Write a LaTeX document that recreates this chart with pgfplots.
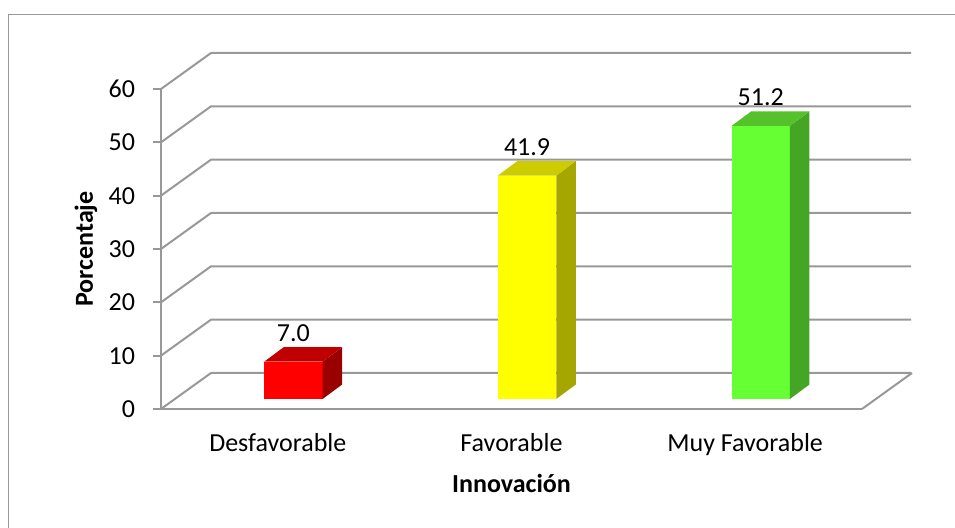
\documentclass[border=0pt]{standalone}
\usepackage{pgfplots}
\pgfplotsset{compat=1.18}
\usepackage{fontspec}
\setmainfont{Carlito}
\definecolor{gridgray}{RGB}{152,152,152}
\definecolor{redfront}{RGB}{255,0,0}
\definecolor{redtop}{RGB}{192,0,0}
\definecolor{redside}{RGB}{155,0,0}
\definecolor{yelfront}{RGB}{255,255,0}
\definecolor{yeltop}{RGB}{204,204,0}
\definecolor{yelside}{RGB}{166,166,0}
\definecolor{grnfront}{RGB}{102,255,51}
\definecolor{grntop}{RGB}{85,194,43}
\definecolor{grnside}{RGB}{69,165,37}
% 3D side and top faces, drawn as a mark at the top centre of the front face
\newcommand\declarecube[3]{%
\pgfdeclareplotmark{#1}{%
  \pgfmathsetlengthmacro{\barh}{\barval*2.666667pt}%
  \pgfsetfillcolor{#2}%
  \pgfpathmoveto{\pgfqpoint{14.6pt}{0pt}}%
  \pgfpathlineto{\pgfqpoint{24.35pt}{7.25pt}}%
  \pgfpathlineto{\pgfpoint{24.35pt}{7.25pt-\barh}}%
  \pgfpathlineto{\pgfpoint{14.6pt}{-\barh}}%
  \pgfpathclose
  \pgfusepathqfill
  \pgfsetfillcolor{#3}%
  \pgfpathmoveto{\pgfqpoint{-14.6pt}{0pt}}%
  \pgfpathlineto{\pgfqpoint{14.6pt}{0pt}}%
  \pgfpathlineto{\pgfqpoint{24.35pt}{7.25pt}}%
  \pgfpathlineto{\pgfqpoint{-4.85pt}{7.25pt}}%
  \pgfpathclose
  \pgfusepathqfill
}}
\declarecube{cubeR}{redside}{redtop}
\declarecube{cubeY}{yelside}{yeltop}
\declarecube{cubeG}{grnside}{grntop}
\begin{document}
\fontsize{13}{15.6}\selectfont
\begin{tikzpicture}
\useasboundingbox (-80.5pt,-59.5pt) rectangle (397pt,204.5pt);
\draw[gridgray, line width=0.8pt] (-76.25pt,-59.5pt) -- (-76.25pt,197.25pt) -- (397pt,197.25pt);
\begin{axis}[
  at={(0,0)}, anchor=south west,
  scale only axis, width=350.5pt, height=160pt,
  xmin=-0.5, xmax=2.5, ymin=0, ymax=60,
  clip=false,
  axis lines*=left,
  axis line style={gridgray, line width=1pt},
  xtick={0,1,2},
  xticklabels={Desfavorable, Favorable, Muy Favorable},
  ytick={0,10,...,60},
  tick align=outside,
  major tick length=4pt,
  xtick style={draw=none},
  ytick style={gridgray, line width=1pt},
  /pgf/number format/assume math mode=true,
  tick label style={font=\fontsize{13}{15.6}\selectfont},
  xticklabel style={anchor=base, yshift=-17.5pt},
  yticklabel style={xshift=-4.5pt},
  xlabel={\textbf{Innovación}},
  ylabel={\textbf{Porcentaje}},
  every axis x label/.style={at={([yshift=-42pt]axis cs:1,0)}, anchor=base, font=\fontsize{13}{15.6}\selectfont},
  every axis y label/.style={at={([xshift=-37.5pt]axis cs:-0.5,30)}, rotate=90, anchor=center, font=\fontsize{13}{15.6}\selectfont},
  nodes near coords={\pgfmathprintnumber[fixed,fixed zerofill,precision=1]{\pgfplotspointmeta}},
  every node near coord/.append style={anchor=base, yshift=10pt, font=\fontsize{13}{15.6}\selectfont, text=black},
  point meta min=0, point meta max=60,
]
% walls and floor
\pgfplotsinvokeforeach{0,10,...,60}{%
  \draw[gridgray, line width=1pt] (axis cs:-0.5,#1) -- ++(25pt,18pt) -- ++(350pt,0pt);
}
\draw[gridgray, line width=1pt] (axis cs:2.5,0) -- ++(25pt,18pt);
% front faces
\addplot[ybar, bar width=0.25, bar shift=0pt, fill=redfront, draw=none, xshift=7.8pt, yshift=5pt]
  coordinates {(0,7.0)};
\addplot[ybar, bar width=0.25, bar shift=0pt, fill=yelfront, draw=none, xshift=7.8pt, yshift=5pt]
  coordinates {(1,41.9)};
\addplot[ybar, bar width=0.25, bar shift=0pt, fill=grnfront, draw=none, xshift=7.8pt, yshift=5pt]
  coordinates {(2,51.2)};
% side and top faces
\addplot[scatter, only marks, mark=cubeR, nodes near coords={}, xshift=7.8pt, yshift=5pt,
  visualization depends on={rawy \as \barval}] coordinates {(0,7.0)};
\addplot[scatter, only marks, mark=cubeY, nodes near coords={}, xshift=7.8pt, yshift=5pt,
  visualization depends on={rawy \as \barval}] coordinates {(1,41.9)};
\addplot[scatter, only marks, mark=cubeG, nodes near coords={}, xshift=7.8pt, yshift=5pt,
  visualization depends on={rawy \as \barval}] coordinates {(2,51.2)};
\end{axis}
\end{tikzpicture}
\end{document}
